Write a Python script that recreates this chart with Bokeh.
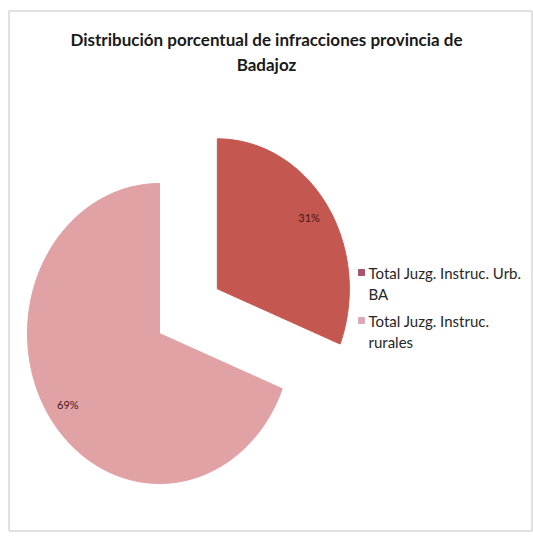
import numpy as np
from bokeh.plotting import figure
from bokeh.models import Range1d
from bokeh.core.properties import value
from bokeh.embed import file_html
from bokeh.resources import INLINE

# ---- data ----
title_lines = ["Distribución porcentual de infracciones provincia de", "Badajoz"]
categories = ["Total Juzg. Instruc. Urb.\nBA", "Total Juzg. Instruc.\nrurales"]
percents = [31, 69]
slice_colors = ["#c4574f", "#e0a2a4"]
marker_colors = ["#a8546a", "#dcaab6"]
explode = [0.53, 0.0]

W, H = 533, 540
p = figure(width=W, height=H, output_backend="svg", toolbar_location=None,
           x_range=Range1d(0, W), y_range=Range1d(H, 0),
           min_border=0, outline_line_color=None)
p.axis.visible = False
p.grid.visible = False
p.background_fill_color = "white"
p.border_fill_color = "white"

# chart-area frame
p.quad(left=[8.5], right=[531.5], top=[10.5], bottom=[530.5], fill_color=None,
       line_color="#c4c4c4", line_width=1)

# pie geometry (screen-like coordinates, y grows downward)
cx, cy, rx, ry = 159, 333, 132, 150
total = float(sum(percents))
start = 0.0
for pct, col, ex in zip(percents, slice_colors, explode):
    span = 2 * np.pi * pct / total
    mid = start + span / 2
    ox = cx + ex * rx * np.sin(mid)
    oy = cy - ex * ry * np.cos(mid)
    th = np.linspace(start, start + span, 120)
    xs = [ox] + list(ox + rx * np.sin(th)) + [ox]
    ys = [oy] + list(oy - ry * np.cos(th)) + [oy]
    p.patch(xs, ys, fill_color=col, line_color=col, line_width=1)
    lx = ox + 0.84 * rx * np.sin(mid)
    ly = oy - 0.84 * ry * np.cos(mid)
    p.text([lx], [ly], text=[f"{pct}%"], text_font=value("Lato"), text_font_size="11px",
           text_color="#4a1418", text_align="center", text_baseline="middle")
    start += span

# title
for i, t in enumerate(title_lines):
    p.text([266], [39 + i * 25], text=[t], text_font=value("Lato"), text_font_size="17px",
           text_font_style="bold", text_color="#1a1a1a", text_align="center",
           text_baseline="middle")

# legend
ly0 = [272, 320]
for cat, mcol, y0 in zip(categories, marker_colors, ly0):
    p.scatter([361], [y0], marker="square", size=6, fill_color=mcol, line_color=mcol)
    for j, line in enumerate(cat.split("\n")):
        p.text([368], [y0 + j * 21], text=[line], text_font=value("Lato"), text_font_size="15px",
               text_color="#262626", text_align="left", text_baseline="middle")

open("out.html", "w").write(file_html(p, INLINE))
